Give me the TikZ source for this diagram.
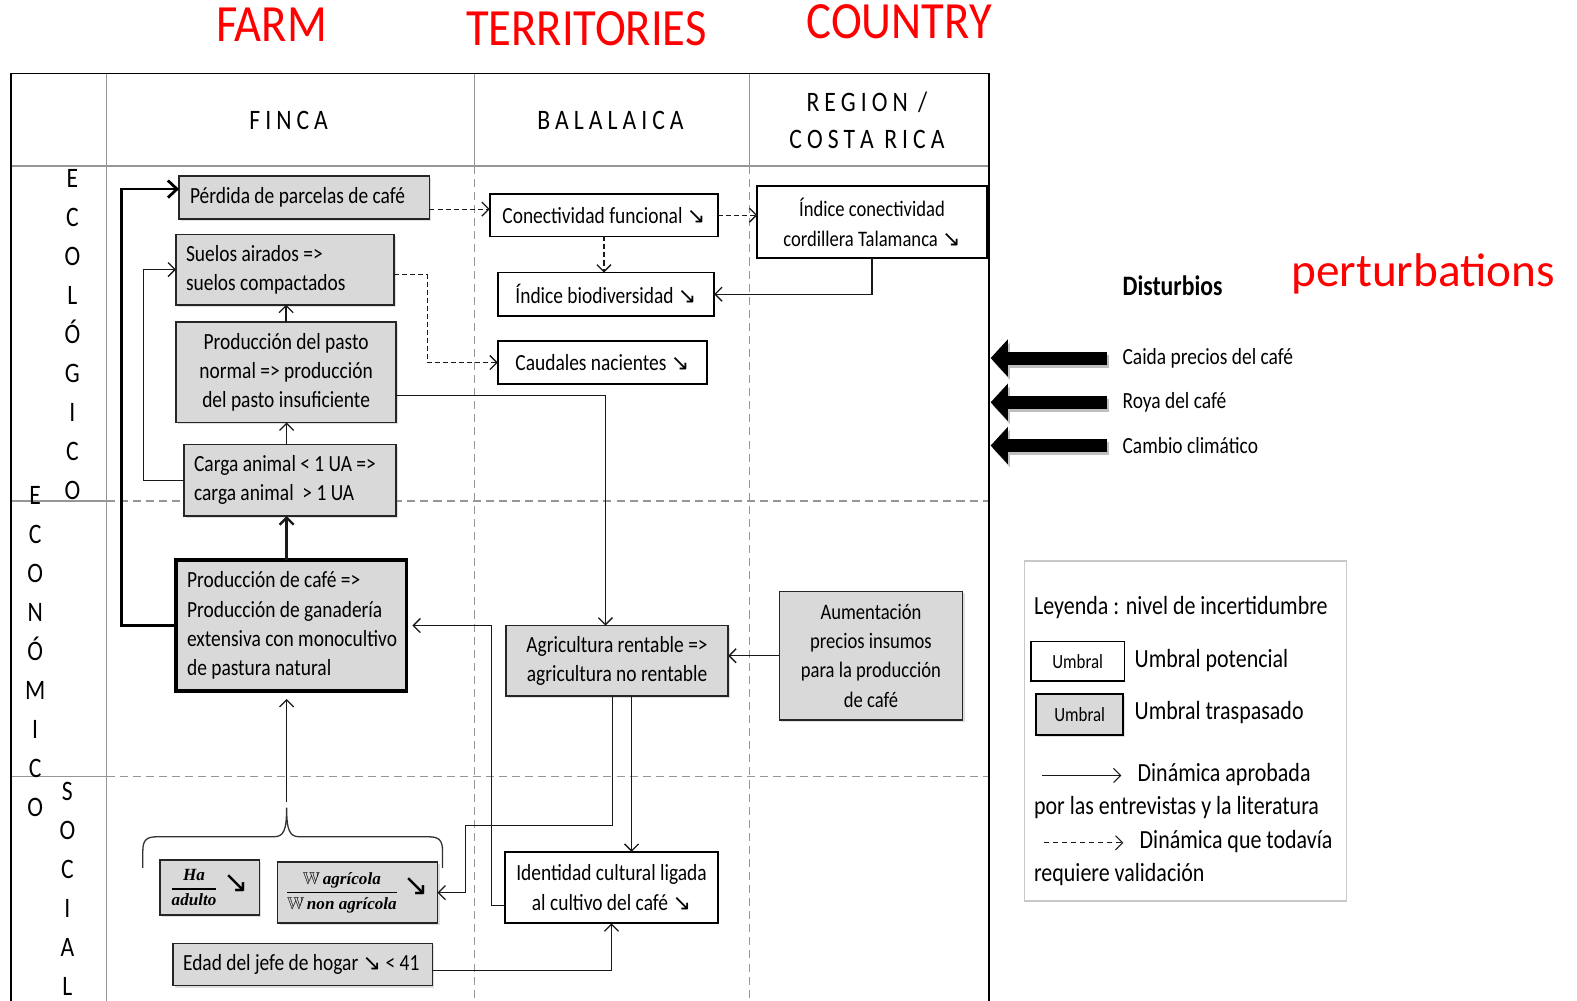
\documentclass[tikz,border=0pt]{standalone}
\usepackage{fontspec}
\usepackage{amsmath,amssymb}
\usetikzlibrary{arrows.meta,shadows}
\setmainfont{Carlito}[FakeStretch=0.84]
\newfontfamily\redfont{Carlito}[FakeStretch=0.89]
\newfontfamily\plainfont{Carlito}
\newfontfamily\symfont{DejaVu Sans}
\newfontfamily\serfont{Liberation Serif}
\newcommand\fs[2]{\fontsize{#1}{#2}\selectfont}
\newcommand\dn{{\symfont\fs{22}{22}↘}}
\newcommand\bigdn{{\symfont\fs{30}{30}↘}}
\newcommand\lsp{\kern5pt }
\newcommand\bi[1]{\mbox{\serfont\bfseries\itshape #1}}
\newcommand\fracbox[2]{$\genfrac{}{}{1.4pt}{0}{\bi{#1}\vphantom{g}}{\vphantom{A}\bi{#2}}$}
\definecolor{boxgray}{RGB}{217,217,217}
\definecolor{gridgray}{RGB}{150,150,150}
\definecolor{legline}{RGB}{200,200,200}
\begin{document}
\begin{tikzpicture}[x=1pt,y=-1pt,
  box/.style={draw=black, line width=1.6pt, inner sep=0pt, outer sep=0pt,
    anchor=north west, font=\fs{23}{29}, align=center},
  gbox/.style={box, fill=boxgray, draw=black!85,
    drop shadow={shadow xshift=2pt, shadow yshift=-2pt, opacity=0.25}},
  wbox/.style={box, fill=white},
  ltext/.style={text width=#1, align=flush left},
  arr/.style={draw=black!90, line width=1.3pt,
    -{Straight Barb[length=7pt,width=14pt]}},
  darr/.style={arr, dash pattern=on 5pt off 3pt},
  thickarr/.style={draw=black, line width=2.8pt,
    -{Straight Barb[length=9pt,width=17pt]}},
  disarr/.style={draw=black, line width=13pt,
    -{Triangle[length=17pt,width=36pt]}},
  grid/.style={draw=gridgray, line width=1.4pt},
  gdash/.style={grid, dash pattern=on 8pt off 5pt},
  red/.style={text=red, inner sep=0pt, font=\redfont\fs{52}{52}},
  lbl/.style={inner sep=0pt, align=center, font=\fs{28}{38.8}},
  head/.style={inner sep=0pt, align=center, font=\fs{28}{37}},
  leg/.style={inner sep=0pt, anchor=west, font=\fs{26}{30}},
  dis/.style={inner sep=0pt, anchor=west, font=\fs{23}{28}}
]
\useasboundingbox (0,0) rectangle (1568,995);

% scale titles
\node[red] (tfarm) at (270,25) {FARM};
\node[red] (tterr) at (583,29) {TERRITORIES};
\node[red] (tcountry) at (894,22) {COUNTRY};
\node[inner sep=0pt, text=red, font=\plainfont\fs{47}{47}] (tpert) at (1415,272) {perturbations};

% table frame and grid
\draw[grid] (106,73) -- (106,995);
\draw[grid] (11,165) -- (983,165);
\draw[grid] (472,73) -- (472,165);
\draw[grid] (745,73) -- (745,165);
\draw[gdash] (472,165) -- (472,995);
\draw[gdash] (745,165) -- (745,995);
\draw[grid] (11,498) -- (106,498);
\draw[gdash] (106,498) -- (983,498);
\draw[grid] (11,772) -- (106,772);
\draw[gdash] (106,772) -- (983,772);
\draw[black, line width=1.8pt] (11,995) -- (11,73) -- (983,73) -- (983,995);

% column headers
\node[head] (hfinca) at (287,120) {F\lsp I\lsp N\lsp C\lsp A};
\node[head] (hbala) at (607,120) {B\lsp A\lsp L\lsp A\lsp L\lsp A\lsp I\lsp C\lsp A};
\node[head] (hreg) at (862,119.5) {R\lsp E\lsp G\lsp I\lsp O\lsp N\ \lsp /\\C\lsp O\lsp S\lsp T\lsp A\ \lsp R\lsp I\lsp C\lsp A};

% row labels
\node[lbl] (recol) at (72,333) {E\\C\\O\\L\\Ó\\G\\I\\C\\O};
\node[lbl] (recon) at (35,647.5) {E\\C\\O\\N\\Ó\\M\\I\\C\\O};
\node[lbl] (rsoc) at (67,884) {S\\O\\C\\I\\A\\L};

% farm level
\node[gbox, minimum width=249pt, minimum height=43pt, ltext=227pt] (perdida) at (178,175)
  {\mbox{Pérdida de parcelas de café}};
\node[gbox, minimum width=217pt, minimum height=70pt, ltext=197pt] (suelos) at (175,233)
  {\mbox{Suelos airados =>}\\\mbox{suelos compactados}};
\node[gbox, minimum width=219pt, minimum height=100pt] (pasto) at (175,320)
  {Producción del pasto\\normal => producción\\del pasto insuficiente};
\node[gbox, minimum width=211pt, minimum height=71pt, ltext=191pt] (carga) at (183,442)
  {\mbox{Carga animal < 1 UA =>}\\\mbox{carga animal\ \ > 1 UA}};
\node[gbox, line width=3.4pt, draw=black, minimum width=229pt, minimum height=130pt, ltext=207pt] (cafe) at (175,557)
  {\mbox{Producción de café =>}\\\mbox{Producción de ganadería}\\\mbox{extensiva con monocultivo}\\\mbox{de pastura natural}};
\node[gbox, minimum width=99pt, minimum height=55pt, font=\fs{17}{20}] (ha) at (159,855)
  {\fracbox{Ha}{adulto}\hspace{6pt}\raisebox{1pt}{\bigdn}};
\node[gbox, minimum width=159pt, minimum height=61pt, font=\fs{17}{20}] (wagr) at (276,857)
  {\fracbox{$\mathbb{W}$\,agrícola}{$\mathbb{W}$\,non agrícola}\hspace{6pt}\raisebox{1pt}{\bigdn}};
\node[gbox, minimum width=258pt, minimum height=42pt, ltext=238pt] (edad) at (172,938)
  {\mbox{Edad del jefe de hogar \dn\ < 41}};

% territory level
\node[wbox, minimum width=227pt, minimum height=42pt] (conect) at (487,193)
  {Conectividad funcional \dn};
\node[wbox, minimum width=215pt, minimum height=43pt] (biodiv) at (495,271)
  {Índice biodiversidad \dn};
\node[wbox, minimum width=208pt, minimum height=43pt] (caudal) at (495,339)
  {Caudales nacientes \dn};
\node[gbox, minimum width=221pt, minimum height=70pt] (agri) at (503,622)
  {Agricultura rentable =>\\agricultura no rentable};
\node[wbox, minimum width=212pt, minimum height=71pt] (ident) at (502,847)
  {Identidad cultural ligada\\al cultivo del café \dn};

% country level
\node[wbox, line width=2pt, minimum width=228pt, minimum height=72pt, font=\fs{22}{29}] (indcon) at (753,185)
  {Índice conectividad\\cordillera Talamanca \dn};
\node[gbox, minimum width=182pt, minimum height=128pt, font=\fs{22}{29}] (aument) at (775,588)
  {Aumentación\\precios insumos\\para la producción\\de café};

% dynamics inside the farm column
\coordinate (ka) at (121,188);
\draw[thickarr] (cafe.west) -| (ka) -- (ka -| perdida.west);
\coordinate (kb) at (143,268);
\draw[arr] (carga.west) -| (kb) -- (kb -| suelos.west);
\draw[arr] (pasto.north) -- (pasto.north |- suelos.south);
\coordinate (kd) at (285,0);
\draw[arr] (kd |- carga.north) -- (kd |- pasto.south);
\draw[arr, line width=2.4pt] (kd |- cafe.north) -- (kd |- carga.south);

% brace grouping the social indicators
\draw[black!80, line width=1.3pt] (142,863) -- (142,846)
  .. controls (142,835) and (146,832) .. (156,832) -- (272,832)
  .. controls (282,832) and (285,826) .. (285,803)
  .. controls (285,826) and (288,832) .. (298,832) -- (426,832)
  .. controls (436,832) and (440,835) .. (440,846) -- (440,863);
\coordinate (bracetip) at (285,797);
\draw[arr, shorten >=8pt] (bracetip) -- (bracetip |- cafe.south);

% links between levels
\coordinate (ki) at (450,208);
\draw[darr] (ki -| perdida.east) -- (ki -| conect.west);
\coordinate (kh) at (425,273);
\draw[darr] (kh -| suelos.east) -| (kh |- caudal.west) -- (caudal.west);
\draw[darr] (conect.east) -- (conect.east -| indcon.west);
\draw[darr] (conect.south) -- (conect.south |- biodiv.north);
\draw[arr] (indcon.south) |- (biodiv.east);
\coordinate (kg) at (602,393);
\draw[arr] (kg -| pasto.east) -| (kg |- agri.north);
\draw[arr] (aument.west) -- (aument.west -| agri.east);
\coordinate (kn1) at (609,821);
\coordinate (kn2) at (463,821);
\draw[arr] (kn1 |- agri.south) -- (kn1) -- (kn2) |- (wagr.east);
\coordinate (ko) at (628,0);
\draw[arr] (ko |- agri.south) -- (ko |- ident.north);
\coordinate (kp) at (489,900);
\draw[arr, shorten >=6pt] (kp -| ident.west) -- (kp) |- (cafe.east);
\draw[arr] ([yshift=-6pt]edad.east) -| (ident.south);

% disturbances
\node[inner sep=0pt, anchor=west, font=\bfseries\fs{28}{30}] (dist) at (1116,284) {Disturbios};
\node[dis] (caida) at (1116,356) {Caida precios del café};
\node[dis] (roya) at (1116,400) {Roya del café};
\node[dis] (clima) at (1116,443) {Cambio climático};
\foreach \n in {caida,roya,clima}{
  \draw[disarr, draw=black!25, transform canvas={shift={(2pt,-3pt)}}] ([xshift=-15pt]\n.west) -- ++(-116,0);
  \draw[disarr] ([xshift=-15pt]\n.west) -- ++(-116,0);
}

% legend
\node[draw=legline, line width=1.5pt, minimum width=320pt, minimum height=338pt, anchor=north west, inner sep=0pt] (legend) at (1018,557) {};
\node[leg] (lgtitle) at (1028,604) {Leyenda : nivel de incertidumbre};
\node[wbox, line width=1.5pt, minimum width=93pt, minimum height=39pt, font=\fs{20}{24}] (lgw) at (1025,638) {Umbral};
\node[leg] (lgwt) at (1128,657) {Umbral potencial};
\node[gbox, line width=2pt, draw=black, minimum width=87pt, minimum height=41pt, font=\fs{20}{24}] (lgg) at (1030,690) {Umbral};
\node[leg] (lggt) at (1128,708) {Umbral traspasado};
\node[leg] (din1) at (1131,770) {Dinámica aprobada};
\node[leg] (din1b) at (1028,803) {por las entrevistas y la literatura};
\node[leg] (din2) at (1133,837) {Dinámica que todavía};
\node[leg] (din2b) at (1028,870) {requiere validación};
\coordinate (lgA1) at (1036,771);
\coordinate (lgA2) at (1115,771);
\draw[arr, line width=1.1pt] (lgA1) -- (lgA2);
\coordinate (lgB1) at (1038,838);
\coordinate (lgB2) at (1117,838);
\draw[arr, line width=1.1pt, dash pattern=on 5pt off 4pt] (lgB1) -- (lgB2);
\end{tikzpicture}
\end{document}
